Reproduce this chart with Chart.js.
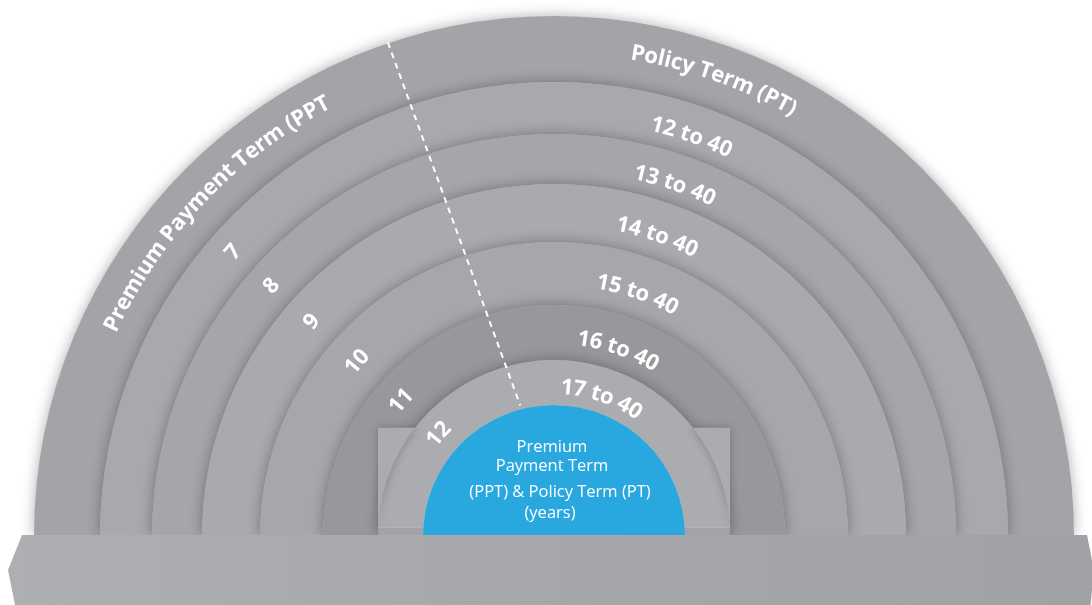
<!DOCTYPE html>
<html lang="en">
<head>
  <meta charset="UTF-8" />
  <title>PPT &amp; PT</title>
  <script src="https://cdn.jsdelivr.net/npm/chart.js"></script>
  <style>
    html, body {
      margin: 0;
      padding: 0;
      background: #ffffff;
    }
    canvas {
      display: block;
    }
  </style>
</head>
<body>
  <canvas id="termChart" width="1092" height="605"></canvas>

  <script>
    // Data
    const titleLeft = 'Premium Payment Term (PPT';
    const titleRight = 'Policy Term (PT)';
    const pptYears = ['7', '8', '9', '10', '11', '12'];
    const ptRanges = ['12 to 40', '13 to 40', '14 to 40', '15 to 40', '16 to 40', '17 to 40'];
    const centerLines = ['Premium', 'Payment Term', '(PPT) & Policy Term (PT)', '(years)'];

    // Styling (outer ring first, blue centre last)
    const ringColors = ['#a3a4a8', '#a8a9ad', '#a5a6aa', '#a9aaae', '#a6a7ab', '#97989c', '#abacb0', '#29a8e0'];
    const ringWeights = [66, 52, 50, 58, 63, 55, 45, 131];

    const ringLabels = ['Title']
      .concat(pptYears.map((y, i) => 'PPT ' + y + ' / PT ' + ptRanges[i]))
      .concat(['Centre']);

    const DEG = Math.PI / 180;

    function polar(c, r, deg) {
      return { x: c.x + r * Math.cos(deg * DEG), y: c.y - r * Math.sin(deg * DEG) };
    }

    // text bent along an arc, read clockwise, tops pointing outward
    function arcText(ctx, c, text, r, midDeg) {
      const chars = [...text];
      const widths = chars.map(ch => ctx.measureText(ch).width);
      const total = widths.reduce((a, b) => a + b, 0);
      let ang = midDeg * DEG + total / r / 2;
      ctx.textAlign = 'center';
      ctx.textBaseline = 'middle';
      chars.forEach((ch, k) => {
        const a = ang - widths[k] / 2 / r;
        ctx.save();
        ctx.translate(c.x + r * Math.cos(a), c.y - r * Math.sin(a));
        ctx.rotate(Math.PI / 2 - a);
        ctx.fillText(ch, 0, 0);
        ctx.restore();
        ang -= widths[k] / r;
      });
    }

    function ring(chart, i) {
      return chart.getDatasetMeta(i).data[0];
    }

    function ringMid(chart, i) {
      const el = ring(chart, i);
      return (el.outerRadius + el.innerRadius) / 2;
    }

    function centre(chart) {
      const el = ring(chart, 0);
      return { x: el.x, y: el.y, r: el.outerRadius };
    }

    const ringDecor = {
      id: 'ringDecor',
      beforeDatasetDraw(chart, args) {
        const ctx = chart.ctx;
        ctx.save();
        if (args.index < chart.data.datasets.length - 1) {
          ctx.shadowColor = 'rgba(0,0,0,0.32)';
          ctx.shadowBlur = 14;
        }
      },
      afterDatasetDraw(chart, args) {
        const ctx = chart.ctx;
        if (args.index === 6) {
          // square shoulders at the foot of the inner ring
          const el = ring(chart, 6);
          const cx = el.x, cy = el.y, r = el.outerRadius;
          const h = r * 0.615;
          const a = Math.asin(h / r);
          ctx.shadowColor = 'rgba(0,0,0,0.25)';
          ctx.shadowBlur = 9;
          ctx.fillStyle = ringColors[6];
          ctx.beginPath();
          ctx.moveTo(cx - r, cy);
          ctx.lineTo(cx - r, cy - h);
          ctx.lineTo(cx - r * Math.cos(a), cy - h);
          ctx.arc(cx, cy, r, Math.PI + a, Math.PI, true);
          ctx.closePath();
          ctx.fill();
          ctx.beginPath();
          ctx.moveTo(cx + r, cy);
          ctx.lineTo(cx + r, cy - h);
          ctx.lineTo(cx + r * Math.cos(a), cy - h);
          ctx.arc(cx, cy, r, -a, 0, false);
          ctx.closePath();
          ctx.fill();
          ctx.shadowColor = 'transparent';
          ctx.shadowBlur = 0;
          ctx.fillStyle = '#a2a3a7';
          ctx.fillRect(cx - r, cy - 9, 2 * r, 9);
          ctx.fillStyle = '#b3b4b8';
          ctx.fillRect(cx - r, cy - 9, 2 * r, 1);
        }
        ctx.restore();
      },
      afterDatasetsDraw(chart) {
        const ctx = chart.ctx;
        const c = centre(chart);
        const area = chart.chartArea;

        // base platform
        const top = c.y - 1;
        const bottom = chart.height;
        const mid = (top + bottom) / 2;
        const L = area.left - 12;
        const R = area.right + 13;
        const grad = ctx.createLinearGradient(L, 0, R, 0);
        grad.addColorStop(0, '#aeafb3');
        grad.addColorStop(0.5, '#a6a7ab');
        grad.addColorStop(1, '#a1a2a6');
        ctx.save();
        ctx.fillStyle = grad;
        ctx.beginPath();
        ctx.moveTo(L, top);
        ctx.lineTo(R, top);
        ctx.lineTo(R + 7, mid);
        ctx.lineTo(R, bottom + 35);
        ctx.lineTo(L, bottom + 35);
        ctx.lineTo(L - 14, mid);
        ctx.closePath();
        ctx.fill();

        // dashed divider between PPT and PT
        const p1 = polar(c, c.r + 1, 108.6);
        const p2 = polar(c, ring(chart, 7).outerRadius + 4, 104.5);
        ctx.strokeStyle = '#ffffff';
        ctx.lineWidth = 2;
        ctx.setLineDash([6, 5]);
        ctx.beginPath();
        ctx.moveTo(p1.x, p1.y);
        ctx.lineTo(p2.x, p2.y);
        ctx.stroke();
        ctx.restore();
      },
      afterDraw(chart) {
        const ctx = chart.ctx;
        const c = centre(chart);
        ctx.save();
        ctx.fillStyle = '#ffffff';

        ctx.font = 'bold 22px "Open Sans"';
        const rTitle = ringMid(chart, 0) + 2;
        arcText(ctx, c, titleLeft, rTitle, 136.3);
        arcText(ctx, c, titleRight, rTitle, 70.7);

        pptYears.forEach((y, i) => {
          arcText(ctx, c, y, ringMid(chart, i + 1), 138.5);
        });
        ptRanges.forEach((t, i) => {
          arcText(ctx, c, t, ringMid(chart, i + 1) - 5, 71);
        });

        // centre caption
        ctx.font = '16.5px "Open Sans"';
        ctx.textAlign = 'center';
        ctx.textBaseline = 'middle';
        const dy = [-89, -70, -44, -23];
        const dx = [-2, -2, 6, -4];
        centerLines.forEach((line, i) => {
          ctx.fillText(line, c.x + dx[i], c.y + dy[i]);
        });
        ctx.restore();
      }
    };

    new Chart(document.getElementById('termChart'), {
      type: 'doughnut',
      data: {
        labels: ['Term'],
        datasets: ringLabels.map((lab, i) => ({
          label: lab,
          data: [1],
          backgroundColor: ringColors[i],
          weight: ringWeights[i],
          borderWidth: 0,
          order: ringLabels.length - i,
          clip: false
        }))
      },
      options: {
        responsive: false,
        animation: false,
        events: [],
        rotation: -90,
        circumference: 180,
        cutout: 0,
        layout: { padding: { left: 34, right: 18, top: 16, bottom: 69 } },
        plugins: {
          legend: { display: false },
          tooltip: { enabled: false }
        }
      },
      plugins: [ringDecor]
    });
  </script>
</body>
</html>
